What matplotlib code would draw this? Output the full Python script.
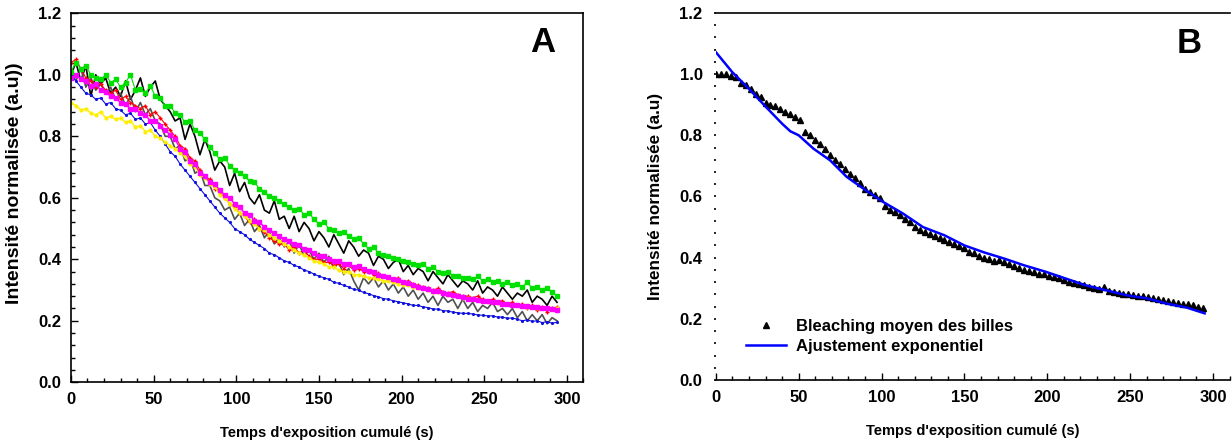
import numpy as np
import matplotlib.pyplot as plt
from matplotlib.ticker import MultipleLocator, FormatStrFormatter

plt.rcParams['font.family'] = ['Liberation Sans', 'DejaVu Sans']
plt.rcParams['font.weight'] = 'bold'

# temps d'exposition (s), un point toutes les 3 s
t = np.arange(0, 297, 3)

# panneau A : courbes de bleaching individuelles
noir = [1.0, 1.04, 0.98, 1.03, 0.93, 1.0, 0.97, 0.99, 0.94, 0.96,
        0.93, 0.98, 0.92, 0.95, 0.99, 0.93, 0.96, 0.98, 0.92, 0.9,
        0.88, 0.85, 0.86, 0.79, 0.84, 0.8, 0.74, 0.79, 0.75, 0.69,
        0.72, 0.7, 0.64, 0.68, 0.62, 0.65, 0.6, 0.58, 0.61, 0.56,
        0.55, 0.59, 0.53, 0.54, 0.5, 0.54, 0.49, 0.52, 0.5, 0.46,
        0.49, 0.47, 0.44, 0.48, 0.45, 0.42, 0.46, 0.44, 0.41, 0.43,
        0.42, 0.38, 0.41, 0.4, 0.37, 0.39, 0.4, 0.36, 0.38, 0.35,
        0.37, 0.36, 0.33, 0.36, 0.34, 0.32, 0.35, 0.33, 0.31, 0.33,
        0.32, 0.3, 0.33, 0.29, 0.31, 0.3, 0.28, 0.31, 0.29, 0.27,
        0.29, 0.28, 0.3, 0.26, 0.28, 0.27, 0.25, 0.28, 0.26]
gris = [1.01, 0.98, 1.02, 0.96, 0.99, 0.95, 0.97, 0.94, 0.96, 0.92,
        0.94, 0.9, 0.93, 0.88, 0.91, 0.87, 0.89, 0.85, 0.84, 0.8,
        0.8, 0.76, 0.77, 0.72, 0.73, 0.68, 0.69, 0.64, 0.64, 0.6,
        0.59, 0.56, 0.57, 0.53, 0.55, 0.51, 0.53, 0.49, 0.51, 0.47,
        0.49, 0.45, 0.47, 0.44, 0.46, 0.42, 0.45, 0.41, 0.43, 0.4,
        0.42, 0.39, 0.41, 0.37, 0.39, 0.35, 0.37, 0.33, 0.3, 0.34,
        0.32, 0.34, 0.31, 0.33, 0.3, 0.32, 0.29, 0.31, 0.28, 0.3,
        0.27, 0.29, 0.26, 0.28, 0.25, 0.28, 0.26, 0.27, 0.24, 0.27,
        0.24, 0.26, 0.23, 0.25, 0.24, 0.26, 0.23, 0.24, 0.22, 0.24,
        0.21, 0.23, 0.2, 0.22, 0.2, 0.22, 0.19, 0.21, 0.2]
bleu = [1.0, 0.98, 0.96, 0.94, 0.935, 0.92, 0.925, 0.905, 0.91, 0.89,
        0.885, 0.87, 0.875, 0.855, 0.86, 0.84, 0.845, 0.82, 0.8, 0.775,
        0.75, 0.735, 0.71, 0.69, 0.67, 0.65, 0.63, 0.61, 0.59, 0.57,
        0.55, 0.535, 0.52, 0.5, 0.49, 0.48, 0.465, 0.455, 0.445, 0.435,
        0.42, 0.415, 0.405, 0.395, 0.39, 0.38, 0.375, 0.365, 0.36, 0.352,
        0.345, 0.34, 0.335, 0.325, 0.322, 0.315, 0.31, 0.302, 0.3, 0.292,
        0.288, 0.282, 0.278, 0.272, 0.27, 0.265, 0.262, 0.258, 0.255, 0.25,
        0.25, 0.245, 0.243, 0.238, 0.238, 0.233, 0.232, 0.228, 0.226, 0.224,
        0.224, 0.222, 0.219, 0.218, 0.216, 0.216, 0.212, 0.212, 0.208, 0.209,
        0.205, 0.2, 0.203, 0.198, 0.2, 0.194, 0.197, 0.192, 0.195]
rouge = [1.04, 1.05, 1.02, 0.99, 0.98, 0.96, 0.97, 0.95, 0.94, 0.95,
         0.92, 0.93, 0.91, 0.9, 0.89, 0.9, 0.87, 0.88, 0.86, 0.84,
         0.82, 0.8, 0.77, 0.76, 0.73, 0.72, 0.69, 0.67, 0.66, 0.63,
         0.62, 0.6, 0.58, 0.57, 0.55, 0.54, 0.52, 0.53, 0.5, 0.49,
         0.47, 0.46, 0.45, 0.45, 0.43, 0.44, 0.42, 0.43, 0.41, 0.4,
         0.4, 0.39, 0.39, 0.38, 0.385, 0.37, 0.38, 0.365, 0.37, 0.36,
         0.36, 0.35, 0.355, 0.345, 0.34, 0.335, 0.34, 0.325, 0.33, 0.32,
         0.315, 0.31, 0.305, 0.3, 0.305, 0.295, 0.29, 0.295, 0.285, 0.28,
         0.28, 0.275, 0.28, 0.27, 0.265, 0.27, 0.26, 0.265, 0.255, 0.26,
         0.25, 0.255, 0.24, 0.25, 0.235, 0.245, 0.23, 0.24, 0.245]
jaune = [0.91, 0.9, 0.885, 0.89, 0.875, 0.87, 0.88, 0.86, 0.865, 0.855,
         0.86, 0.845, 0.85, 0.83, 0.835, 0.815, 0.82, 0.8, 0.795, 0.78,
         0.77, 0.76, 0.745, 0.735, 0.71, 0.7, 0.675, 0.665, 0.645, 0.635,
         0.61, 0.6, 0.58, 0.565, 0.55, 0.54, 0.525, 0.515, 0.5, 0.495,
         0.48, 0.47, 0.46, 0.45, 0.44, 0.43, 0.42, 0.415, 0.405, 0.395,
         0.39, 0.385, 0.375, 0.375, 0.365, 0.36, 0.36, 0.35, 0.35, 0.345,
         0.34, 0.34, 0.335, 0.33, 0.33, 0.325, 0.32, 0.315, 0.315, 0.31,
         0.305, 0.305, 0.3, 0.295, 0.295, 0.29, 0.285, 0.285, 0.28, 0.275,
         0.275, 0.27, 0.268, 0.265, 0.262, 0.26, 0.258, 0.255, 0.255, 0.25,
         0.25, 0.248, 0.245, 0.245, 0.243, 0.24, 0.24, 0.238, 0.24]
magenta = [0.99, 1.0, 0.985, 0.98, 0.965, 0.97, 0.95, 0.945, 0.93, 0.925,
           0.91, 0.905, 0.89, 0.89, 0.875, 0.87, 0.85, 0.85, 0.835, 0.82,
           0.805, 0.79, 0.76, 0.75, 0.72, 0.71, 0.68, 0.67, 0.65, 0.645,
           0.625, 0.61, 0.6, 0.58, 0.57, 0.55, 0.545, 0.525, 0.52, 0.505,
           0.495, 0.485, 0.475, 0.465, 0.46, 0.45, 0.445, 0.435, 0.43, 0.42,
           0.41, 0.41, 0.4, 0.395, 0.395, 0.385, 0.385, 0.375, 0.378, 0.37,
           0.362, 0.358, 0.35, 0.346, 0.342, 0.336, 0.332, 0.325, 0.322, 0.315,
           0.31, 0.306, 0.302, 0.298, 0.296, 0.29, 0.286, 0.284, 0.28, 0.276,
           0.272, 0.272, 0.268, 0.264, 0.265, 0.26, 0.26, 0.256, 0.255, 0.252,
           0.252, 0.248, 0.249, 0.245, 0.246, 0.242, 0.24, 0.238, 0.235]
vert = [1.01, 1.04, 1.02, 1.03, 1.0, 0.99, 0.985, 1.0, 0.975, 0.985,
        0.96, 0.975, 1.0, 0.95, 0.955, 0.94, 0.965, 0.93, 0.925, 0.9,
        0.9, 0.875, 0.87, 0.845, 0.85, 0.82, 0.81, 0.79, 0.765, 0.745,
        0.725, 0.73, 0.705, 0.69, 0.68, 0.67, 0.655, 0.65, 0.63, 0.62,
        0.605, 0.6, 0.59, 0.58, 0.57, 0.56, 0.565, 0.545, 0.55, 0.53,
        0.515, 0.52, 0.5, 0.495, 0.485, 0.49, 0.475, 0.465, 0.47, 0.45,
        0.435, 0.44, 0.42, 0.415, 0.41, 0.405, 0.4, 0.395, 0.39, 0.385,
        0.38, 0.385, 0.37, 0.375, 0.36, 0.355, 0.36, 0.345, 0.345, 0.34,
        0.34, 0.335, 0.345, 0.33, 0.335, 0.325, 0.33, 0.32, 0.325, 0.315,
        0.32, 0.31, 0.325, 0.305, 0.31, 0.3, 0.305, 0.295, 0.28]

# panneau B : moyenne des billes et ajustement exponentiel
moyenne = [1.0, 1.0, 1.0, 0.995, 0.99, 0.97, 0.965, 0.95, 0.935, 0.925,
           0.905, 0.9, 0.895, 0.885, 0.875, 0.87, 0.86, 0.85, 0.81, 0.8,
           0.785, 0.77, 0.755, 0.735, 0.72, 0.705, 0.69, 0.675, 0.66, 0.645,
           0.625, 0.615, 0.605, 0.595, 0.57, 0.555, 0.55, 0.54, 0.525, 0.515,
           0.5, 0.49, 0.485, 0.478, 0.47, 0.463, 0.458, 0.45, 0.445, 0.437,
           0.43, 0.42, 0.415, 0.405, 0.4, 0.395, 0.39, 0.392, 0.386, 0.38,
           0.372, 0.367, 0.36, 0.355, 0.352, 0.348, 0.345, 0.34, 0.336, 0.332,
           0.328, 0.322, 0.318, 0.313, 0.31, 0.305, 0.3, 0.298, 0.305, 0.292,
           0.288, 0.285, 0.282, 0.28, 0.278, 0.276, 0.274, 0.27, 0.268, 0.265,
           0.262, 0.258, 0.256, 0.252, 0.25, 0.247, 0.245, 0.24, 0.235]
t_fit = [0, 10, 20, 30, 40, 45, 50, 59, 69, 79, 89, 101, 113, 125, 138, 150,
         162, 174, 186, 199, 211, 223, 235, 248, 260, 272, 284, 295]
ajust = [1.072, 1.006, 0.952, 0.894, 0.838, 0.813, 0.80, 0.756, 0.718, 0.664,
         0.626, 0.582, 0.544, 0.50, 0.473, 0.44, 0.417, 0.397, 0.375, 0.354,
         0.332, 0.31, 0.294, 0.277, 0.267, 0.25, 0.237, 0.218]

fig = plt.figure(figsize=(12.32, 4.45), dpi=100)
axA = fig.add_axes([0.0576, 0.141, 0.416, 0.829])
axB = fig.add_axes([0.581, 0.146, 0.417, 0.825])

axA.plot(t, noir, color='black', lw=1.2)
axA.plot(t, gris, color='#505050', lw=1.2)
axA.plot(t, bleu, color='#1010e0', lw=0.8, marker='.', ms=2.5)
axA.plot(t, rouge, color='red', lw=0.8, marker='+', ms=3.5, mew=1)
axA.plot(t, jaune, color='#ffee00', lw=1.0, marker='.', ms=4)
axA.plot(t, magenta, color='#ff00ff', lw=1.0, marker='s', ms=3)
axA.plot(t, vert, color='#00e000', lw=0.8, marker='s', ms=2.8)

axB.plot(t, moyenne, ls='none', marker='^', color='black', ms=5,
         label='Bleaching moyen des billes')
axB.plot(t_fit, ajust, color='#0000ff', lw=1.8, label='Ajustement exponentiel')

for ax in (axA, axB):
    ax.set_xlim(0, 310)
    ax.set_ylim(0, 1.2)
    ax.xaxis.set_major_locator(MultipleLocator(50))
    ax.xaxis.set_minor_locator(MultipleLocator(10))
    ax.yaxis.set_major_locator(MultipleLocator(0.2))
    ax.yaxis.set_minor_locator(MultipleLocator(0.04))
    ax.yaxis.set_major_formatter(FormatStrFormatter('%.1f'))
    ax.tick_params(labelsize=12)
    ax.set_xlabel("Temps d'exposition cumulé (s)", fontsize=10.5, fontweight='bold', labelpad=14)
    for s in ax.spines.values():
        s.set_linewidth(1.2)

axA.tick_params(axis='both', which='both', direction='in', width=1)
axA.tick_params(axis='both', which='major', length=5, pad=7)
axA.tick_params(axis='both', which='minor', length=3)
axA.set_ylabel('Intensité normalisée (a.u))', fontsize=14, fontweight='bold')
axA.yaxis.set_label_coords(-0.094, 0.54)
axA.text(0.92, 0.92, 'A', transform=axA.transAxes, fontsize=25,
         fontweight='bold', ha='center', va='center')

axB.spines['left'].set_visible(False)
axB.spines['right'].set_visible(False)
axB.tick_params(axis='x', which='both', direction='in', width=1)
axB.tick_params(axis='x', which='major', length=5, pad=7)
axB.tick_params(axis='x', which='minor', length=3)
axB.tick_params(axis='y', which='both', direction='out', length=1.5, width=1.2, pad=8)
axB.set_ylabel('Intensité normalisée (a.u)', fontsize=12.3, fontweight='bold', labelpad=12)
axB.text(0.922, 0.918, 'B', transform=axB.transAxes, fontsize=25,
         fontweight='bold', ha='center', va='center')
axB.legend(loc='lower left', bbox_to_anchor=(0.03, 0.03), frameon=False,
           handlelength=2.4, handletextpad=0.6, labelspacing=0.3,
           prop={'weight': 'bold', 'size': 12})

fig.savefig('out.png', dpi=100)
